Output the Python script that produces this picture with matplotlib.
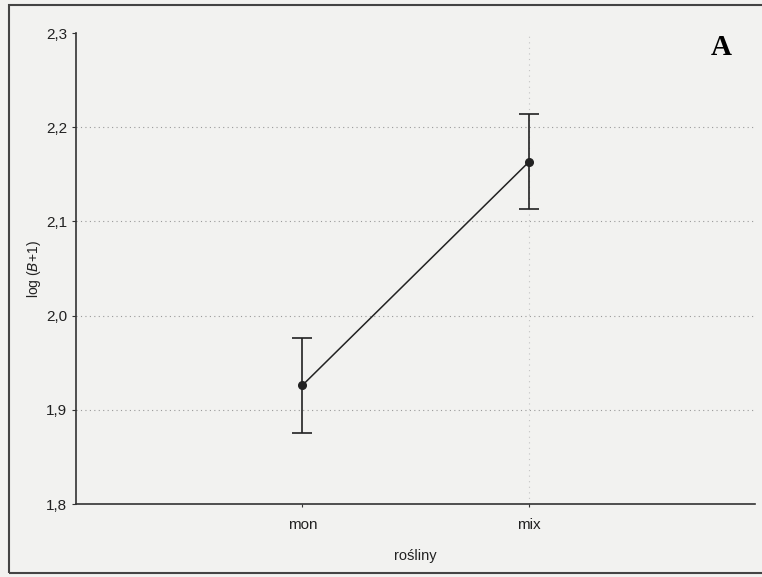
import matplotlib.pyplot as plt
from matplotlib.patches import Rectangle

plt.rcParams['font.family'] = ['Liberation Sans', 'DejaVu Sans']

groups = ['mon', 'mix']
means = [1.926, 2.163]
err_lo = [0.051, 0.050]
err_hi = [0.050, 0.051]
yticks = [1.8, 1.9, 2.0, 2.1, 2.2, 2.3]
ytick_labels = ['1,8', '1,9', '2,0', '2,1', '2,2', '2,3']
grid_levels = [1.9, 2.0, 2.1, 2.2]

fig = plt.figure(figsize=(7.62, 5.77), dpi=100)
fig.patch.set_facecolor('#f2f2f0')
ax = fig.add_axes([0.0997, 0.1265, 0.8913, 0.8163])
ax.set_facecolor('#f2f2f0')

x = list(range(len(groups)))
ax.errorbar(x, means, yerr=[err_lo, err_hi], color='#222222', lw=1.1,
            marker='o', ms=5.5, capsize=7, capthick=1.2, elinewidth=1.2)

ax.set_xlim(-1, 2)
ax.set_ylim(1.8, 2.3)
ax.set_xticks(x)
ax.set_xticklabels(groups)
ax.set_yticks(yticks)
ax.set_yticklabels(ytick_labels)
ax.tick_params(labelsize=11, length=3, color='#333333', labelcolor='#222222')
ax.tick_params(axis='x', length=2, pad=8)

for s in ['top', 'right']:
    ax.spines[s].set_visible(False)
for s in ['left', 'bottom']:
    ax.spines[s].set_color('#333333')
    ax.spines[s].set_linewidth(1.2)

# dotted grid, no line at the top tick
for g in grid_levels:
    ax.axhline(g, linestyle=(0, (1, 3)), color='#9a9a9a', lw=0.8, zorder=0)
ax.axvline(1, linestyle=(0, (1, 4)), color='#c4c4c4', lw=0.8, zorder=0)

ax.set_ylabel('log ($\\it{B}$+1)', fontsize=10, color='#222222', labelpad=2)
ax.set_xlabel('rośliny', fontsize=10.5, color='#222222', labelpad=12)

ax.text(0.95, 0.97, 'A', transform=ax.transAxes, fontsize=21,
        fontweight='bold', family='Liberation Serif', ha='center', va='center')

fig.patches.append(Rectangle((9 / 762, 4 / 577), 1.0, 1 - 9 / 577,
                             transform=fig.transFigure, fill=False,
                             edgecolor='#444444', lw=1.5))

fig.savefig('out.png', dpi=100, facecolor=fig.get_facecolor())
